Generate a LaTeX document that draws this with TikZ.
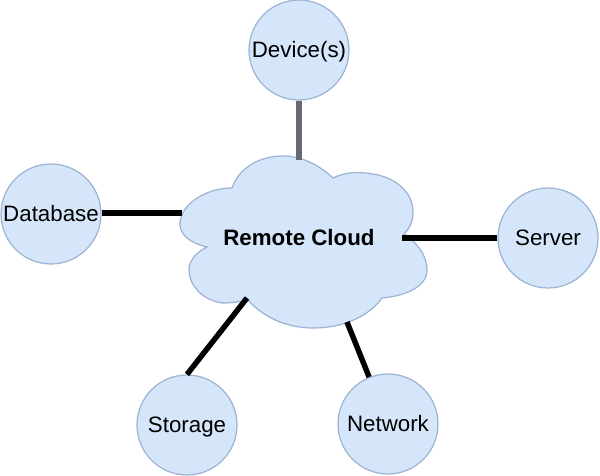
\documentclass[tikz,border=0pt]{standalone}
\usepackage{fontspec}
\setmainfont{Liberation Sans}
\usetikzlibrary{positioning}
\definecolor{CloudFill}{HTML}{D6E6FA}
\definecolor{CloudEdge}{HTML}{9DB3D3}
\definecolor{LinkGrey}{HTML}{666A75}
\tikzset{
  unit/.style={circle, draw=CloudEdge, fill=CloudFill, line width=0.7pt, minimum size=2cm, inner sep=0pt, text height=9pt, text depth=0pt, font=\fontsize{12.7}{15}\selectfont},
  link/.style={line width=3.1pt, black}
}
\begin{document}
\begin{tikzpicture}[x=0.02cm, y=-0.02cm]
\useasboundingbox (0, 0) rectangle (600, 476);

% Cloud outline
\draw[draw=CloudEdge, fill=CloudFill, line width=0.7pt]
  (232, 188) .. controls (237, 172) and (255, 156) .. (283, 156)
  .. controls (303, 156) and (320, 166) .. (333, 178)
  .. controls (345, 172) and (358, 172) .. (365, 173)
  .. controls (395, 175) and (413, 192) .. (413, 212)
  .. controls (413, 222) and (409, 229) .. (404, 234)
  .. controls (418, 243) and (427, 256) .. (427, 270)
  .. controls (427, 287) and (405, 296) .. (382, 298)
  .. controls (370, 315) and (345, 328) .. (313, 328)
  .. controls (285, 328) and (262, 316) .. (248, 300)
  .. controls (235, 303) and (225, 303) .. (222, 303)
  .. controls (202, 300) and (189, 285) .. (189, 270)
  .. controls (189, 260) and (197, 252) .. (207, 247)
  .. controls (190, 243) and (180, 235) .. (180, 224)
  .. controls (180, 205) and (205, 188) .. (232, 188) -- cycle;
\node[font=\fontsize{12.7}{15}\selectfont\bfseries] (cloud) at (299, 238) {Remote Cloud};

% Where the links meet the cloud
\coordinate (cloudN) at (299, 160);
\coordinate (cloudW) at (182, 213);
\coordinate (cloudE) at (402, 238);
\coordinate (cloudSW) at (247, 298);
\coordinate (cloudS) at (347, 322);

% Outer circles
\node[unit] (device) at (299, 50) {Device(s)};
\node[unit] (database) at (51, 214) {Database};
\node[unit] (server) at (548, 238) {Server};
\node[unit] (storage) at (187, 425) {Storage};
\node[unit] (network) at (388, 424) {Network};

% Links
\draw[link, LinkGrey] (device) -- (cloudN);
\draw[link] (database.east |- cloudW) -- (cloudW);
\draw[link] (server) -- (cloudE);
\draw[link] (storage.north) -- (cloudSW);
\draw[link] (network) -- (cloudS);
\end{tikzpicture}
\end{document}
